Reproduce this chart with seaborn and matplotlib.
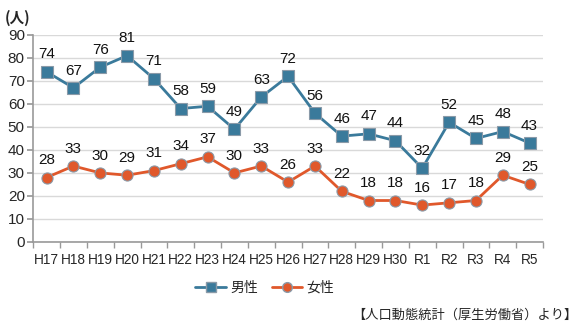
import matplotlib
matplotlib.use("Agg")
import matplotlib.pyplot as plt
import seaborn as sns
import pandas as pd
import numpy as np

years = ["H17","H18","H19","H20","H21","H22","H23","H24","H25","H26","H27","H28","H29","H30","R1","R2","R3","R4","R5"]
male = [74,67,76,81,71,58,59,49,63,72,56,46,47,44,32,52,45,48,43]
female = [28,33,30,29,31,34,37,30,33,26,33,22,18,18,16,17,18,29,25]
series_names = ["男性", "女性"]
colors = ["#3A7A9B", "#E0582B"]

sns.set_theme(style="white")
plt.rcParams['font.family'] = ['Liberation Sans', 'Noto Sans CJK JP', 'DejaVu Sans']

df = pd.DataFrame({"year": years * 2,
                   "value": male + female,
                   "sex": [series_names[0]] * len(years) + [series_names[1]] * len(years)})
df["x"] = list(range(len(years))) * 2

fig = plt.figure(figsize=(5.82, 3.30), dpi=100)
ax = fig.add_axes([0.057, 0.267, 0.876, 0.627])

sns.lineplot(data=df, x="x", y="value", hue="sex", style="sex",
             markers={"男性": "s", "女性": "o"}, dashes=False,
             palette=dict(zip(series_names, colors)), ax=ax,
             linewidth=2, markersize=8, markeredgecolor="#8a9aa8", markeredgewidth=0.8,
             legend=False)

for vals in (male, female):
    for i, v in enumerate(vals):
        ax.text(i, v + 4.5, str(v), ha="center", va="bottom", fontsize=11, color="#111111")

ax.set_xlim(-0.5, len(years) - 0.5)
ax.set_ylim(0, 90)
ax.set_yticks(range(0, 91, 10))
ax.set_xticks(range(len(years)))
ax.set_xticklabels(years, fontsize=9.8)
ax.set_xticks(np.arange(-0.5, len(years), 1), minor=True)
ax.tick_params(axis="x", which="major", length=0, pad=8)
ax.tick_params(axis="x", which="minor", length=4, color="#999999", direction="out", bottom=True)
ax.tick_params(axis="y", length=4, color="#999999", direction="out", left=True, labelsize=11, pad=2)
ax.set_xlabel("")
ax.set_ylabel("")
ax.yaxis.grid(True, color="#d9d9d9", linewidth=1)
ax.set_axisbelow(True)
for s in ["top", "right"]:
    ax.spines[s].set_visible(False)
for s in ["left", "bottom"]:
    ax.spines[s].set_color("#999999")
    ax.spines[s].set_linewidth(1.2)

fig.text(0.008, 0.945, "(人)", fontsize=10.5, fontweight="bold", ha="left", va="center",
         family=['Noto Sans CJK JP', 'DejaVu Sans'])

from matplotlib.lines import Line2D
handles = [Line2D([0], [0], color=colors[0], marker="s", markersize=7, linewidth=2, markeredgecolor="#8a9aa8"),
           Line2D([0], [0], color=colors[1], marker="o", markersize=7, linewidth=2, markeredgecolor="#8a9aa8")]
leg = fig.legend(handles, series_names, loc="center", bbox_to_anchor=(0.455, 0.128), ncol=2,
                 frameon=False, handlelength=2.2, columnspacing=1.0, handletextpad=0.3,
                 prop={"family": ['Noto Sans CJK JP'], "size": 10})

fig.text(0.993, 0.045, "【人口動態統計（厚生労働省）より】", fontsize=9.5, ha="right", va="center",
         family=['Noto Sans CJK JP', 'DejaVu Sans'])

fig.savefig("out.png", dpi=100)
